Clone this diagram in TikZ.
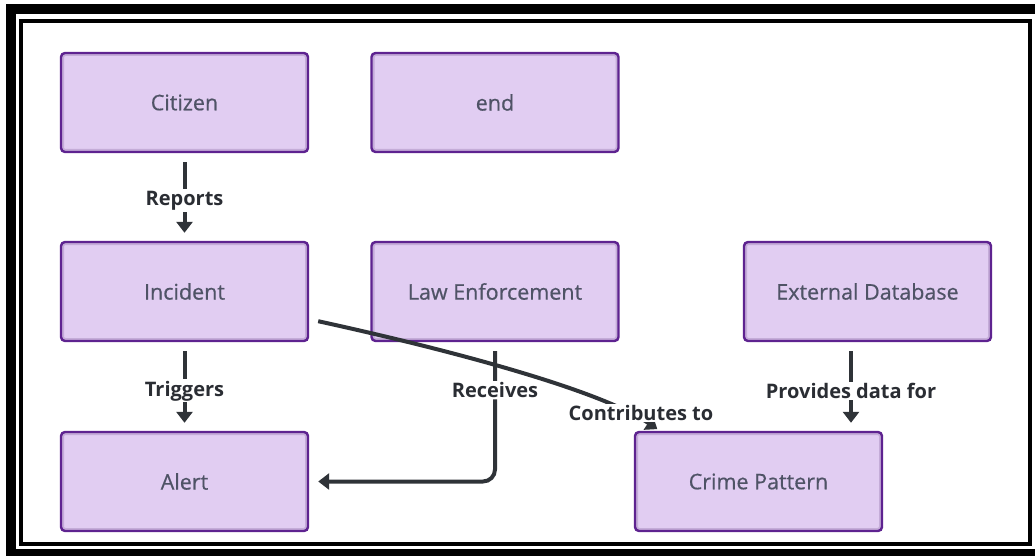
\documentclass[tikz,border=0pt]{standalone}
\usepackage{fontspec}
\setmainfont{Open Sans}
\newfontfamily\boxfont{Open Sans}[FakeBold=0.6]
\usetikzlibrary{arrows.meta,calc}
\definecolor{boxfill}{HTML}{E1CDF2}
\definecolor{boxline}{HTML}{5E2390}
\definecolor{boxshade}{HTML}{C4ACD8}
\definecolor{nodetxt}{HTML}{4F5366}
\definecolor{labeltxt}{HTML}{2A2D33}
\definecolor{edge}{HTML}{2F3338}
\begin{document}
\begin{tikzpicture}[x=1pt,y=-1pt,
  box/.style={draw=boxline, fill=boxfill, line width=2.4pt, rounded corners=4pt,
    minimum width=247pt, minimum height=99pt, inner sep=0pt, text=nodetxt,
    font=\boxfont\fontsize{21.5}{24}\selectfont,
    path picture={\draw[boxshade, line width=6pt]
      (path picture bounding box.south west) rectangle (path picture bounding box.north east);}},
  lbl/.style={fill=white, inner sep=1.5pt, text=labeltxt, font=\bfseries\fontsize{20}{22}\selectfont},
  conn/.style={draw=edge, line width=4pt, shorten <=9pt, shorten >=8pt,
    -{Triangle[width=16pt,length=11pt]}},
  frameout/.style={draw=black, line width=10pt},
  framein/.style={draw=black, line width=4pt}]
\useasboundingbox (0,0) rectangle (1035,556);
% frame
\draw[frameout] (10.5,9.5) rectangle (1045,554);
\draw[framein] (21,21) rectangle (1030,543.5);
% boxes
\node[box] (cit) at (184.5,102.5) {Citizen};
\node[box] (end) at (495,102.5) {end};
\node[box] (inc) at (184.5,291.5) {Incident};
\node[box] (law) at (495,291.5) {Law Enforcement};
\node[box] (ext) at (867.5,291.5) {External Database};
\node[box] (alert) at (184.5,481.5) {Alert};
\node[box] (crime) at (758.5,481.5) {Crime Pattern};
% connectors
\draw[conn] (cit.south) -- node[lbl,pos=0.54]{Reports} (inc.north);
\draw[conn] (inc.south) -- node[lbl,pos=0.55]{Triggers} (alert.north);
\draw[conn] (ext.south -| 851,0) -- node[lbl,pos=0.55]{Provides data for} (crime.north -| 851,0);
\draw[conn, rounded corners=12pt, shorten <=9pt, shorten >=9pt] (law.south) -- node[lbl,pos=0.345]{Receives} (law.south |- alert.east) -- (alert.east);
\draw[conn, shorten <=0pt, shorten >=3pt] ($(inc.south east)+(9,-21)$) .. controls (450,350) and (600,390) .. ($(crime.north west)+(26,0)$);
\node[lbl] (contrib) at (641,413) {Contributes to};
\end{tikzpicture}
\end{document}
